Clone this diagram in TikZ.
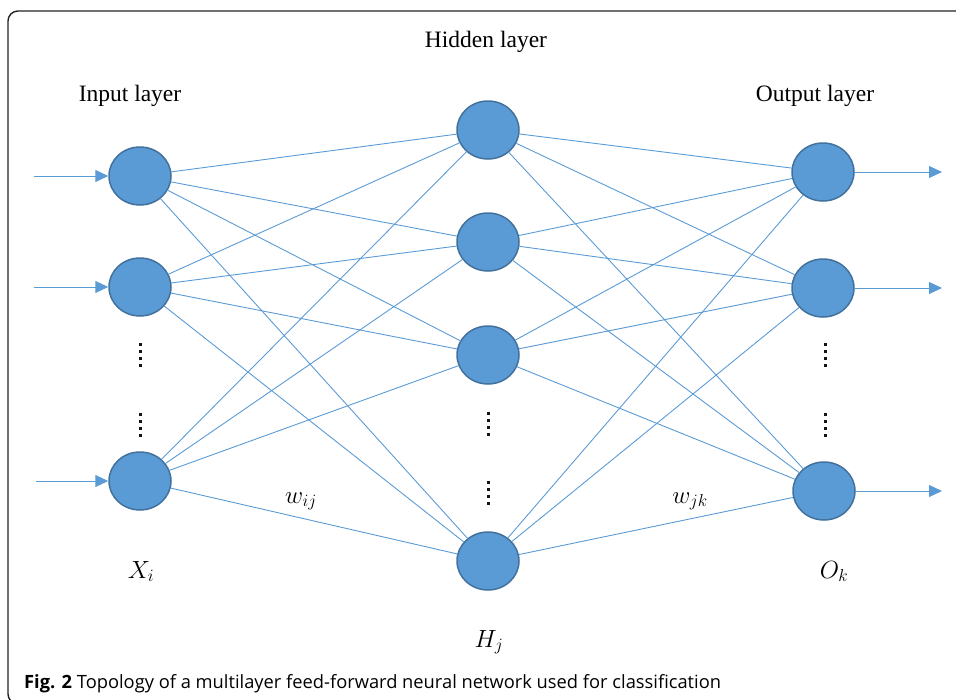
\documentclass[tikz,border=0pt]{standalone}
\usepackage{fontspec}
\setmainfont{Liberation Serif}
\newfontfamily\capfont{Open Sans}
\usetikzlibrary{shapes.geometric, arrows.meta, positioning}
\definecolor{nnblue}{RGB}{91,155,213}
\definecolor{nnborder}{RGB}{65,113,156}
\definecolor{framegray}{RGB}{35,35,35}
\definecolor{dotgray}{RGB}{20,20,20}
\tikzset{
  neuron/.style={ellipse, draw=nnborder, fill=nnblue, line width=1.5pt,
    minimum width=62pt, minimum height=58pt, inner sep=0pt},
  link/.style={draw=nnblue, line width=0.9pt},
  ioarrow/.style={-{Triangle[length=13pt, width=12pt]}, draw=nnblue,
    line width=1pt},
  layertext/.style={anchor=base, inner sep=0pt, font=\fontsize{23.5}{27}\selectfont},
  mathlabel/.style={anchor=base, inner sep=0pt, font=\fontsize{27}{31}\selectfont},
  vdotsline/.style={draw=dotgray, line width=3pt, dash pattern=on 3pt off 4pt},
}
\begin{document}
\begin{tikzpicture}[x=1pt, y=-1pt]
  \useasboundingbox (0,0) rectangle (956,699);
  \clip (0,0) rectangle (956,699);

  % Frame
  \draw[framegray, line width=1.4pt, rounded corners=10pt]
    (1000,11) -- (8,11) -- (8,704) -- (40,704);

  % Layer titles
  \node[layertext] (tin)  at (130,101) {Input layer};
  \node[layertext] (thid) at (486,47)  {Hidden layer};
  \node[layertext] (tout) at (815,101) {Output layer};

  % Neurons
  \node[neuron] (i1) at (140,176) {};
  \node[neuron] (i2) at (140,287) {};
  \node[neuron] (i3) at (140,481) {};
  \node[neuron] (h1) at (488,130) {};
  \node[neuron] (h2) at (488,242) {};
  \node[neuron] (h3) at (488,355) {};
  \node[neuron] (h4) at (488,561) {};
  \node[neuron] (o1) at (823,172) {};
  \node[neuron] (o2) at (823,288) {};
  \node[neuron] (o3) at (824,491) {};

  % Weights
  \foreach \a in {i1,i2,i3}
    \foreach \b in {h1,h2,h3,h4}
      \draw[link] (\a) -- (\b);
  \foreach \a in {h1,h2,h3,h4}
    \foreach \b in {o1,o2,o3}
      \draw[link] (\a) -- (\b);

  % Inputs and outputs
  \coordinate (x1) at (34,176);
  \coordinate (x2) at (34,287);
  \coordinate (x3) at (36,481);
  \coordinate (y1) at (942,172);
  \coordinate (y2) at (942,288);
  \coordinate (y3) at (942,491);
  \draw[ioarrow] (x1) -- (i1);
  \draw[ioarrow] (x2) -- (i2);
  \draw[ioarrow] (x3) -- (i3);
  \draw[ioarrow] (o1) -- (y1);
  \draw[ioarrow] (o2) -- (y2);
  \draw[ioarrow] (o3) -- (y3);

  % Dots
  \foreach \y in {343,413} {
    \draw[vdotsline] (140,\y) -- ++(0,24);
    \draw[vdotsline] (825,\y) -- ++(0,24);
  }
  \foreach \y in {412,481}
    \draw[vdotsline] (488,\y) -- ++(0,24);

  % Labels
  \node[mathlabel] (lx)  at (141,578) {$X_i$};
  \node[mathlabel] (lh)  at (489,647) {$H_j$};
  \node[mathlabel] (lo)  at (834,578) {$O_k$};
  \node[mathlabel] (lw1) at (301,503) {$w_{ij}$};
  \node[mathlabel] (lw2) at (690,503) {$w_{jk}$};

  % Caption
  \node[anchor=base west, inner sep=0pt, font=\capfont\fontsize{18.3}{22}\selectfont]
    (cap) at (24,688) {\textbf{Fig. 2} Topology of a multilayer feed-forward neural network used for classification};
\end{tikzpicture}
\end{document}
